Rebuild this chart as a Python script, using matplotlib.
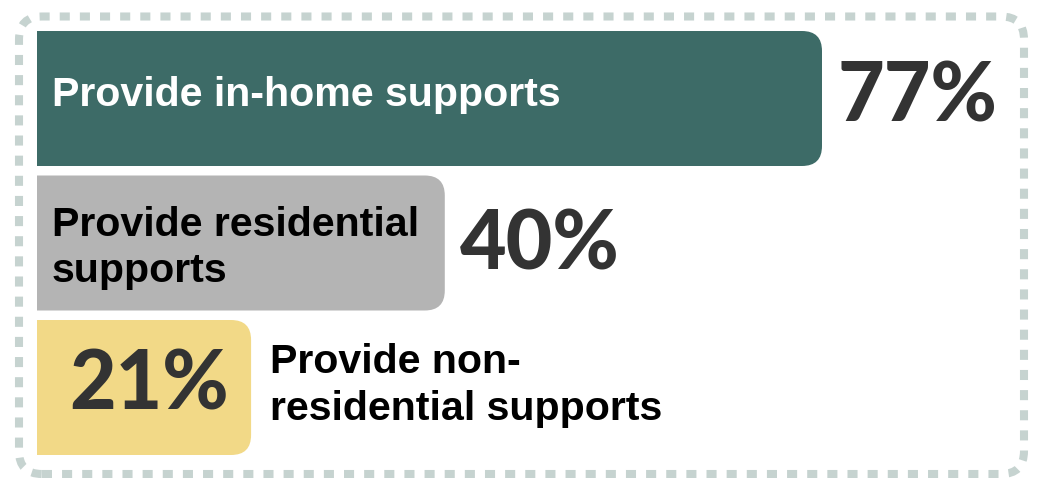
import matplotlib
matplotlib.use("Agg")
import matplotlib.pyplot as plt
from matplotlib.patches import FancyBboxPatch, Rectangle

labels = ["Provide in-home supports", "Provide residential\nsupports", "Provide non-\nresidential supports"]
values = [77, 40, 21]
pct_labels = ["77%", "40%", "21%"]
colors = ["#3d6b67", "#b4b4b4", "#f2d987"]
label_colors = ["white", "black", "black"]

W, H, DPI = 1042, 478, 100
fig = plt.figure(figsize=(W / DPI, H / DPI), dpi=DPI)
fig.patch.set_facecolor("white")

# dotted rounded border
border = FancyBboxPatch((19 / W, 1 - 474 / H), (1024 - 19) / W, (474 - 16.5) / H,
                        boxstyle="round,pad=0,rounding_size=0.022",
                        mutation_aspect=W / H,
                        transform=fig.transFigure, fill=False,
                        edgecolor="#c6d3d0", linewidth=5.8,
                        linestyle=(0, (1.25, 1.25)), capstyle="butt")
fig.patches.append(border)

ax = fig.add_axes([0, 0, 1, 1])
ax.set_axis_off()
px_per_unit = 785 / 77.0
x0 = -37 / px_per_unit
ax.set_xlim(x0, x0 + W / px_per_unit)
row_px = 144.5
y_first = 98.5
y_top = -y_first / row_px
ax.set_ylim(y_top + H / row_px, y_top)

def px_x(p):
    return p / px_per_unit

def px_y(p):
    return p / row_px

bar_h = px_y(135)
r_x = px_x(20)
aspect = px_y(20) / r_x

pct_font = {"family": ["Lato", "DejaVu Sans"], "weight": "black", "fontsize": 58}
lab_font = {"family": ["Liberation Sans", "DejaVu Sans"], "weight": "bold", "fontsize": 29.6}

# layout offsets (pixels)
label_first_baseline = [7, -7, -14.5]
label_line_gap = [46, 46, 47]
pct_baseline = [23, 27, 22.5]

for i, (lab, v, pl, c, lc) in enumerate(zip(labels, values, pct_labels, colors, label_colors)):
    y0 = i - bar_h / 2
    patch = FancyBboxPatch((-3 * r_x, y0), v + 3 * r_x, bar_h,
                           boxstyle=f"round,pad=0,rounding_size={r_x}",
                           mutation_aspect=aspect, facecolor=c, edgecolor="none")
    ax.add_patch(patch)
    clip = Rectangle((0, y0 - 1), 200, bar_h + 2, transform=ax.transData)
    patch.set_clip_path(clip)

    lines = lab.split("\n")
    if i < 2:
        lx = px_x(15)
        ax.text(v + px_x(15), i + px_y(pct_baseline[i]), pl, color="#333333",
                va="baseline", ha="left", **pct_font)
    else:
        lx = v + px_x(19)
        ax.text(v / 2 + px_x(5), i + px_y(pct_baseline[i]), pl, color="#333333",
                va="baseline", ha="center", **pct_font)
    for k, ln in enumerate(lines):
        ax.text(lx, i + px_y(label_first_baseline[i] + k * label_line_gap[i]), ln,
                color=lc, va="baseline", ha="left", **lab_font)

fig.savefig("out.png", dpi=DPI, facecolor="white")
